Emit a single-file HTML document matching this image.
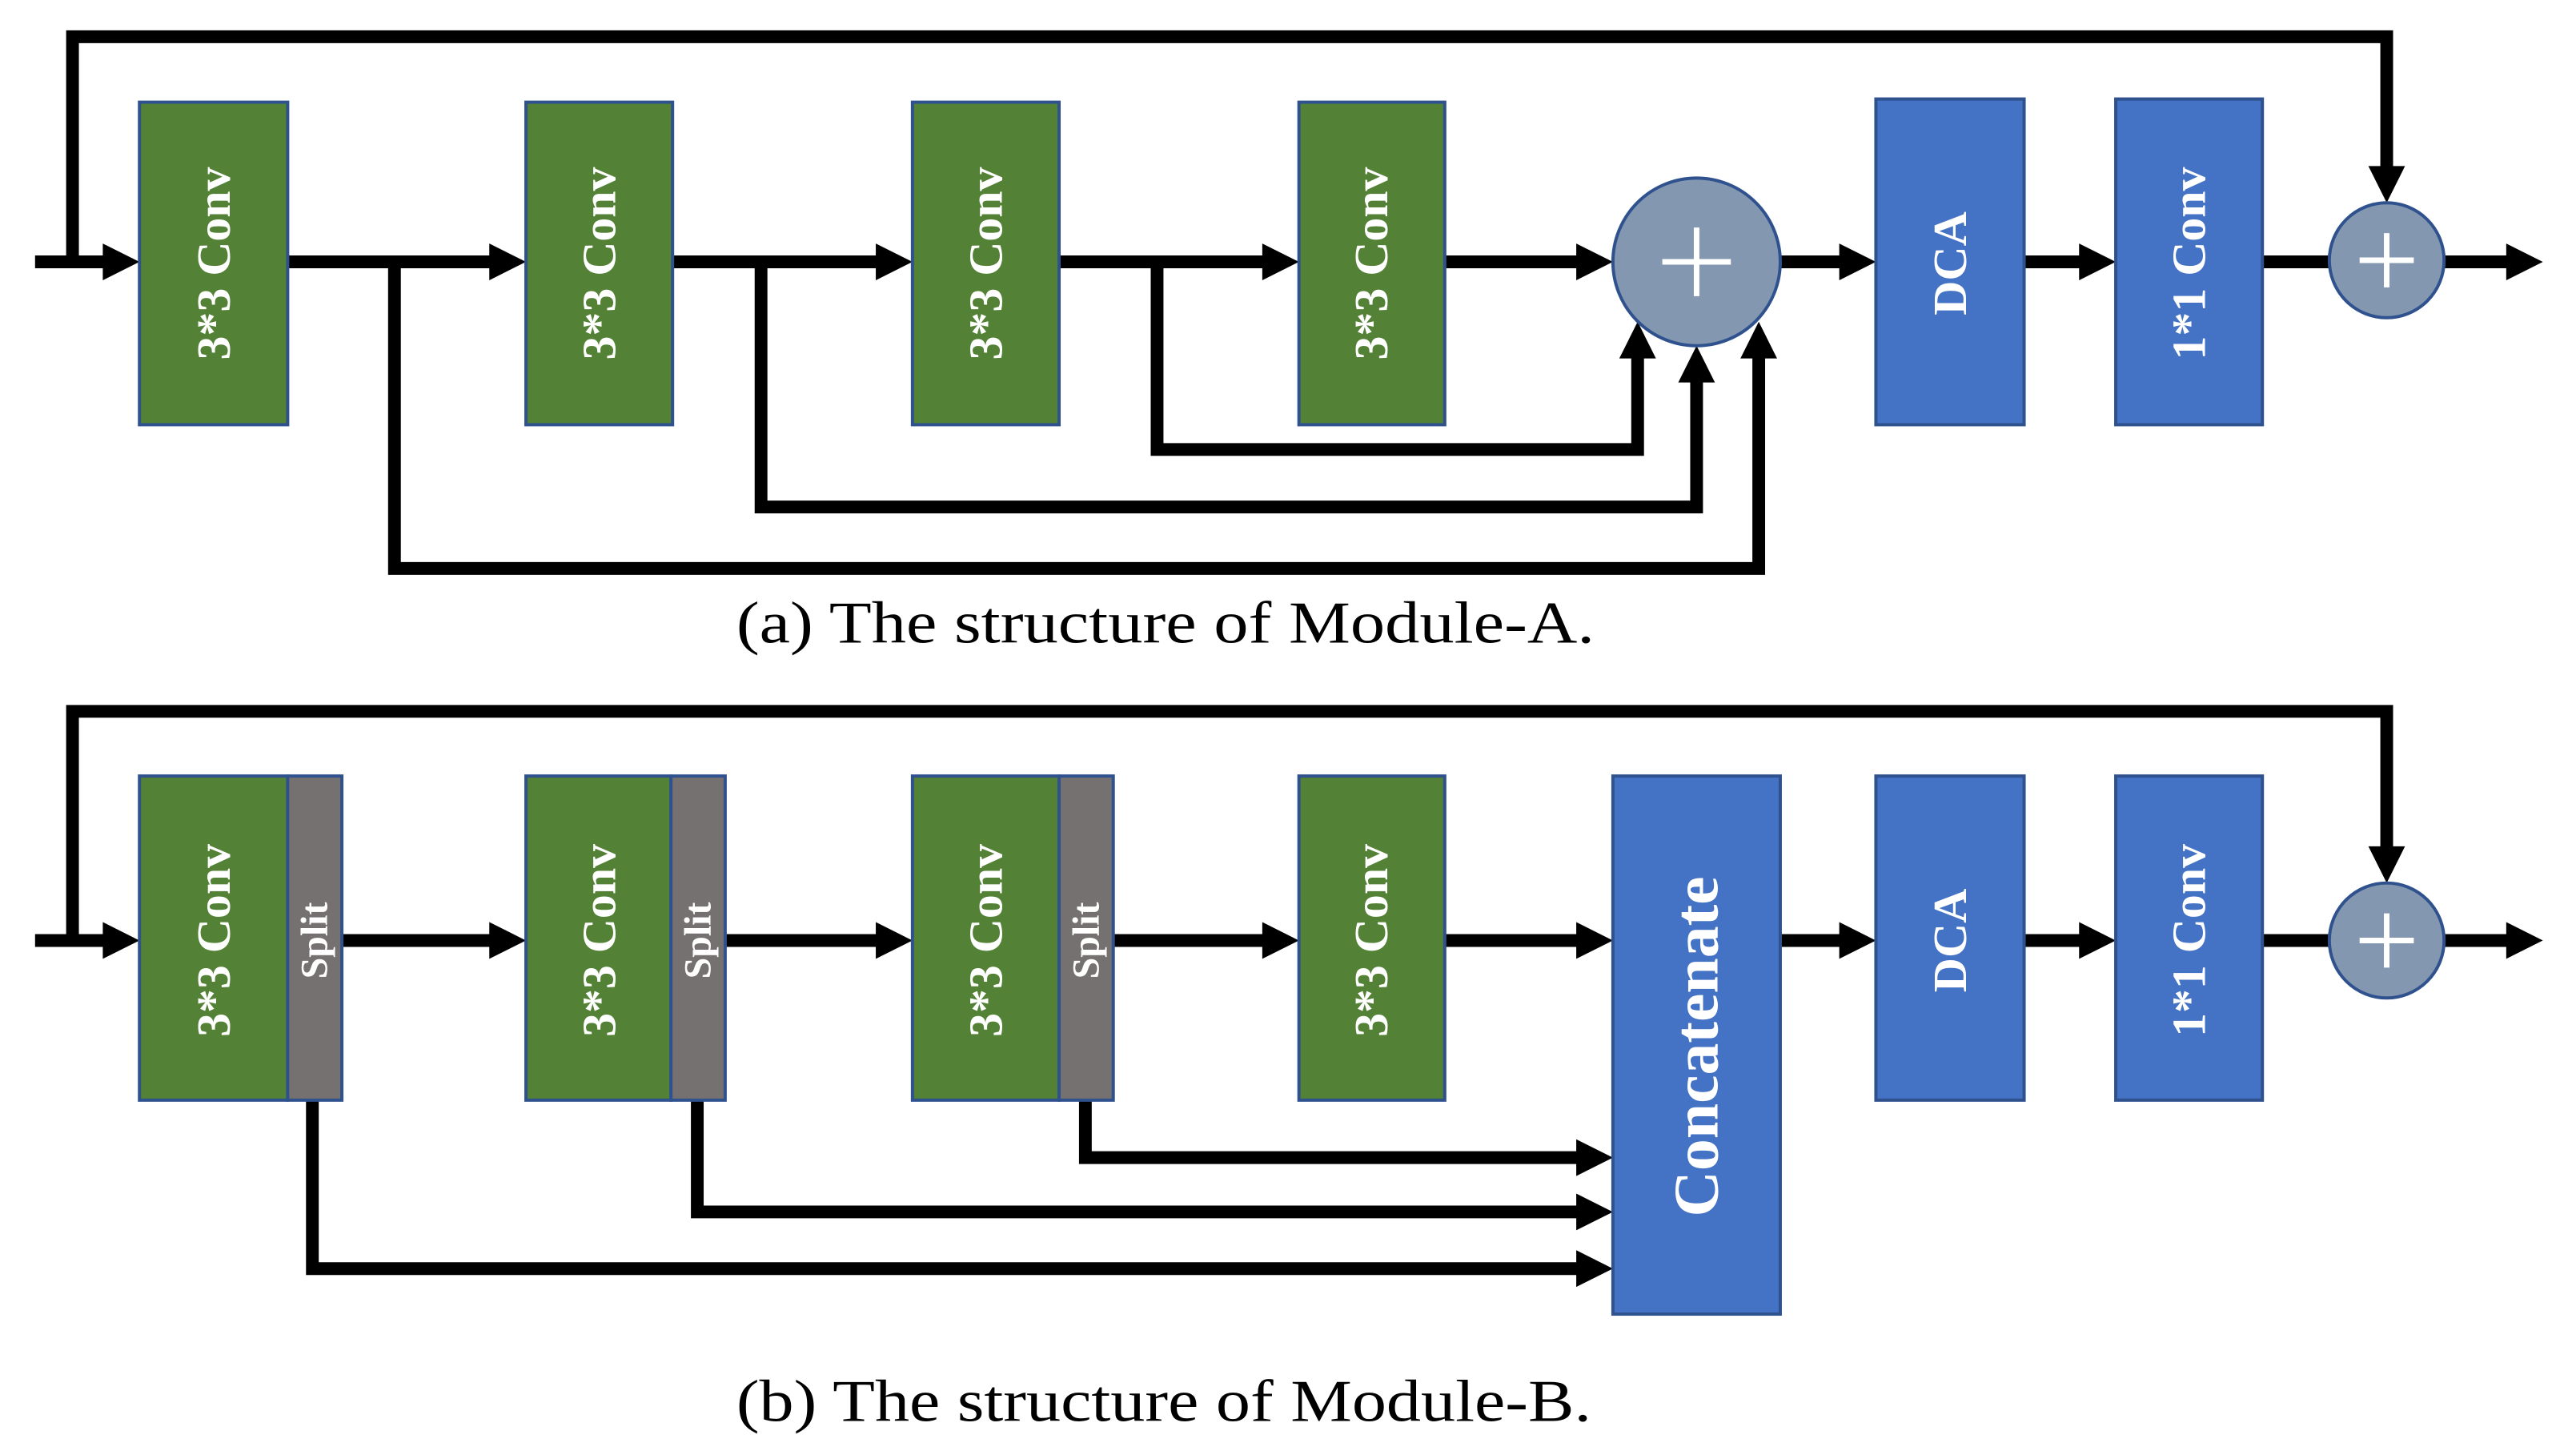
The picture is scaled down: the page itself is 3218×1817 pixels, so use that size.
<!DOCTYPE html>
<html><head><meta charset="utf-8"><style>
html,body{margin:0;padding:0;background:#fff;}
svg{display:block;}
.bt{font-family:"Liberation Serif",serif;font-weight:bold;fill:#fff;}
.cap{font-family:"Liberation Serif",serif;fill:#000;font-size:74px;}
</style></head><body>
<svg width="3218" height="1817" viewBox="0 0 3218 1817" xmlns="http://www.w3.org/2000/svg">
<g transform="scale(0.9955,0.997)">
<g fill="none" stroke="#000" stroke-width="16" stroke-linejoin="miter" stroke-linecap="butt">
<path d="M44,328 H135"/>
<path d="M91,328 V46 H2995 V214"/>
<path d="M361,328 H620"/>
<path d="M495,328 V712 H2207 V443"/>
<path d="M844,328 H1105"/>
<path d="M955,328 V635 H2129 V473"/>
<path d="M1329,328 H1590"/>
<path d="M1452,328 V563 H2055 V443"/>
<path d="M1813,328 H1984"/>
<path d="M2234,328 H2314"/>
<path d="M2540,328 H2615"/>
<path d="M2839,328 H2923"/>
<path d="M3067,328 H3151"/>
<path d="M44,1178 H135"/>
<path d="M91,1178 V891 H2995 V1066"/>
<path d="M429,1178 H620"/>
<path d="M392,1378 V1589 H1984"/>
<path d="M910,1178 H1105"/>
<path d="M875,1378 V1518 H1984"/>
<path d="M1397,1178 H1590"/>
<path d="M1362,1378 V1450 H1984"/>
<path d="M1813,1178 H1984"/>
<path d="M2234,1178 H2314"/>
<path d="M2540,1178 H2615"/>
<path d="M2839,1178 H2923"/>
<path d="M3067,1178 H3151"/>
</g>
<g fill="#000">
<polygon points="129,305 175,328 129,351"/>
<polygon points="614,305 660,328 614,351"/>
<polygon points="1099,305 1145,328 1099,351"/>
<polygon points="1584,305 1630,328 1584,351"/>
<polygon points="1978,305 2024,328 1978,351"/>
<polygon points="2308,305 2354,328 2308,351"/>
<polygon points="2609,305 2655,328 2609,351"/>
<polygon points="3145,305 3191,328 3145,351"/>
<polygon points="2972,208 2995,254 3018,208"/>
<polygon points="2184,449 2207,403 2230,449"/>
<polygon points="2106,479 2129,433 2152,479"/>
<polygon points="2032,449 2055,403 2078,449"/>
<polygon points="129,1155 175,1178 129,1201"/>
<polygon points="614,1155 660,1178 614,1201"/>
<polygon points="1099,1155 1145,1178 1099,1201"/>
<polygon points="1584,1155 1630,1178 1584,1201"/>
<polygon points="1978,1155 2024,1178 1978,1201"/>
<polygon points="2308,1155 2354,1178 2308,1201"/>
<polygon points="2609,1155 2655,1178 2609,1201"/>
<polygon points="3145,1155 3191,1178 3145,1201"/>
<polygon points="1978,1566 2024,1589 1978,1612"/>
<polygon points="1978,1495 2024,1518 1978,1541"/>
<polygon points="1978,1427 2024,1450 1978,1473"/>
<polygon points="2972,1060 2995,1106 3018,1060"/>
</g>
<g stroke="#2F528F" stroke-width="4">
<rect x="175" y="128" width="186" height="404" fill="#538135"/>
<rect x="660" y="128" width="184" height="404" fill="#538135"/>
<rect x="1145" y="128" width="184" height="404" fill="#538135"/>
<rect x="1630" y="128" width="183" height="404" fill="#538135"/>
<rect x="2354" y="124" width="186" height="408" fill="#4472C4"/>
<rect x="2655" y="124" width="184" height="408" fill="#4472C4"/>
<circle cx="2129" cy="328" r="105" fill="#8497B0"/>
<circle cx="2995" cy="326" r="72" fill="#8497B0"/>
<rect x="175" y="972" width="186" height="406" fill="#538135"/>
<rect x="361" y="972" width="68" height="406" fill="#767171"/>
<rect x="660" y="972" width="182" height="406" fill="#538135"/>
<rect x="842" y="972" width="68" height="406" fill="#767171"/>
<rect x="1145" y="972" width="184" height="406" fill="#538135"/>
<rect x="1329" y="972" width="68" height="406" fill="#767171"/>
<rect x="1630" y="972" width="183" height="406" fill="#538135"/>
<rect x="2024" y="972" width="210" height="674" fill="#4472C4"/>
<rect x="2354" y="972" width="186" height="406" fill="#4472C4"/>
<rect x="2655" y="972" width="184" height="406" fill="#4472C4"/>
<circle cx="2995" cy="1178" r="72" fill="#8497B0"/>
</g>
<g stroke="#fff" stroke-width="7">
<path d="M2129,285 V371 M2086,328 H2172"/>
<path d="M2995,292 V360 M2961,326 H3029"/>
<path d="M2995,1144 V1212 M2961,1178 H3029"/>
</g>
<g class="bt" text-anchor="middle" dominant-baseline="central" font-size="60">
<text transform="translate(268,330) rotate(-90)">3*3 Conv</text>
<text transform="translate(752,330) rotate(-90)">3*3 Conv</text>
<text transform="translate(1237,330) rotate(-90)">3*3 Conv</text>
<text transform="translate(1721,330) rotate(-90)">3*3 Conv</text>
<text transform="translate(2447,330) rotate(-90)">DCA</text>
<text transform="translate(2747,330) rotate(-90)">1*1 Conv</text>
<text transform="translate(268,1178) rotate(-90)">3*3 Conv</text>
<text transform="translate(752,1178) rotate(-90)">3*3 Conv</text>
<text transform="translate(1237,1178) rotate(-90)">3*3 Conv</text>
<text transform="translate(1721,1178) rotate(-90)">3*3 Conv</text>
<text transform="translate(2447,1178) rotate(-90)">DCA</text>
<text transform="translate(2747,1178) rotate(-90)">1*1 Conv</text>
</g>
<g class="bt" text-anchor="middle" dominant-baseline="central" font-size="48">
<text transform="translate(395,1178) rotate(-90)">Split</text>
<text transform="translate(876,1178) rotate(-90)">Split</text>
<text transform="translate(1363,1178) rotate(-90)">Split</text>
</g>
<text class="bt" text-anchor="middle" dominant-baseline="central" font-size="80" transform="translate(2129,1311) rotate(-90)">Concatenate</text>
<text class="cap" x="924" y="805" textLength="1077" lengthAdjust="spacingAndGlyphs">(a) The structure of Module-A.</text>
<text class="cap" x="924" y="1780" textLength="1073" lengthAdjust="spacingAndGlyphs">(b) The structure of Module-B.</text>
</g>
</svg>
</body></html>
